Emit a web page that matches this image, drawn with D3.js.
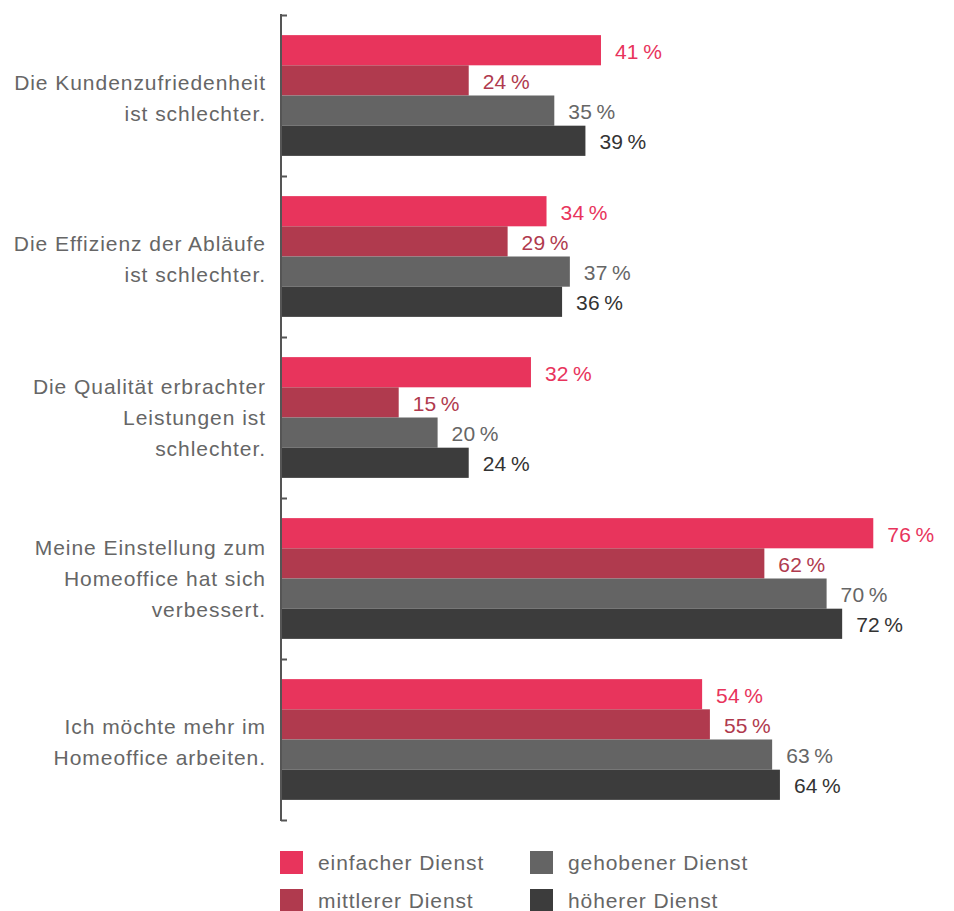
<!DOCTYPE html>
<html>
<head>
<meta charset="utf-8">
<script src="https://cdn.jsdelivr.net/npm/d3@7"></script>
<style>
  body { margin: 0; background: #fff; }
  text { font-family: "Liberation Sans", Arial, sans-serif; }
</style>
</head>
<body>
<div id="chart"></div>
<script>
// categories (label lines) and series
let categories = [
  ['Die Kundenzufriedenheit', 'ist schlechter.'],
  ['Die Effizienz der Abläufe', 'ist schlechter.'],
  ['Die Qualität erbrachter', 'Leistungen ist', 'schlechter.'],
  ['Meine Einstellung zum', 'Homeoffice hat sich', 'verbessert.'],
  ['Ich möchte mehr im', 'Homeoffice arbeiten.']
];
let seriesNames = ['einfacher Dienst', 'mittlerer Dienst', 'gehobener Dienst', 'höherer Dienst'];
let einfacher = [41, 34, 32, 76, 54];
let mittlerer = [24, 29, 15, 62, 55];
let gehobener = [35, 37, 20, 70, 63];
let hoeherer = [39, 36, 24, 72, 64];

let barColors = ['#e8345c', '#b03a4e', '#646464', '#3c3c3c'];
let labelColors = ['#e8345c', '#b03a4e', '#666666', '#333333'];

let w = 954, h = 911;
let padding = {top: 15, left: 282, bottom: 91};
let series = [einfacher, mittlerer, gehobener, hoeherer];

let svg = d3.select('#chart').append('svg').attr('width', w).attr('height', h);

let yScale = d3.scaleBand()
  .domain(d3.range(categories.length))
  .range([padding.top, h - padding.bottom])
  .paddingInner(0.25)
  .paddingOuter(0.125);
let yInner = d3.scaleBand().domain(d3.range(series.length)).range([0, yScale.bandwidth()]);
let xScale = d3.scaleLinear().domain([0, 100]).range([padding.left, padding.left + 778]);

// bars + labels
series.forEach(function (values, s) {
  let g = svg.append('g');
  g.selectAll('rect')
    .data(values)
    .enter()
    .append('rect')
    .attr('x', xScale(0))
    .attr('y', (d, i) => yScale(i) + yInner(s))
    .attr('width', d => xScale(d) - xScale(0))
    .attr('height', yInner.bandwidth())
    .style('fill', barColors[s]);
  g.selectAll('text')
    .data(values)
    .enter()
    .append('text')
    .attr('x', d => xScale(d) + 14)
    .attr('y', (d, i) => yScale(i) + yInner(s) + yInner.bandwidth() / 2 + 1)
    .attr('dy', '0.35em')
    .style('font-size', '21px')
    .style('letter-spacing', '0.2px')
    .style('fill', labelColors[s])
    .text(d => d + '\u2009%');
});

// axis with ticks at band edges
let axisScale = d3.scaleLinear().domain([0, categories.length]).range([padding.top, h - padding.bottom]);
let yAxis = d3.axisRight(axisScale).ticks(categories.length).tickSize(6).tickFormat('');
let axisG = svg.append('g').attr('transform', 'translate(' + (padding.left - 1) + ',0)').call(yAxis);
axisG.select('.domain').remove();
axisG.selectAll('line').attr('stroke', '#555').attr('stroke-width', 2);
svg.append('line')
  .attr('x1', padding.left - 1).attr('x2', padding.left - 1)
  .attr('y1', axisScale(0) - 1).attr('y2', axisScale(categories.length) + 1)
  .attr('stroke', '#555').attr('stroke-width', 2);

// category labels
let lineH = 31;
categories.forEach(function (lines, i) {
  let cy = yScale(i) + yScale.bandwidth() / 2 + (lines.length === 2 ? 3 : 0);
  let t = svg.append('text')
    .attr('text-anchor', 'end')
    .style('font-size', '21px')
    .style('letter-spacing', '0.95px')
    .style('fill', '#666');
  lines.forEach(function (line, j) {
    t.append('tspan')
      .attr('x', 266)
      .attr('y', cy + (j - (lines.length - 1) / 2) * lineH)
      .attr('dy', '0.35em')
      .text(line);
  });
});

// legend
let legend = svg.append('g');
seriesNames.forEach(function (name, s) {
  let col = Math.floor(s / 2), row = s % 2;
  let lx = 280 + col * 250, ly = 851 + row * 38;
  legend.append('rect')
    .attr('x', lx).attr('y', ly).attr('width', 23).attr('height', 23)
    .style('fill', barColors[s]);
  legend.append('text')
    .attr('x', lx + 38).attr('y', ly + 12).attr('dy', '0.35em')
    .style('font-size', '21px')
    .style('letter-spacing', '0.9px')
    .style('fill', '#666')
    .text(name);
});
</script>
</body>
</html>
